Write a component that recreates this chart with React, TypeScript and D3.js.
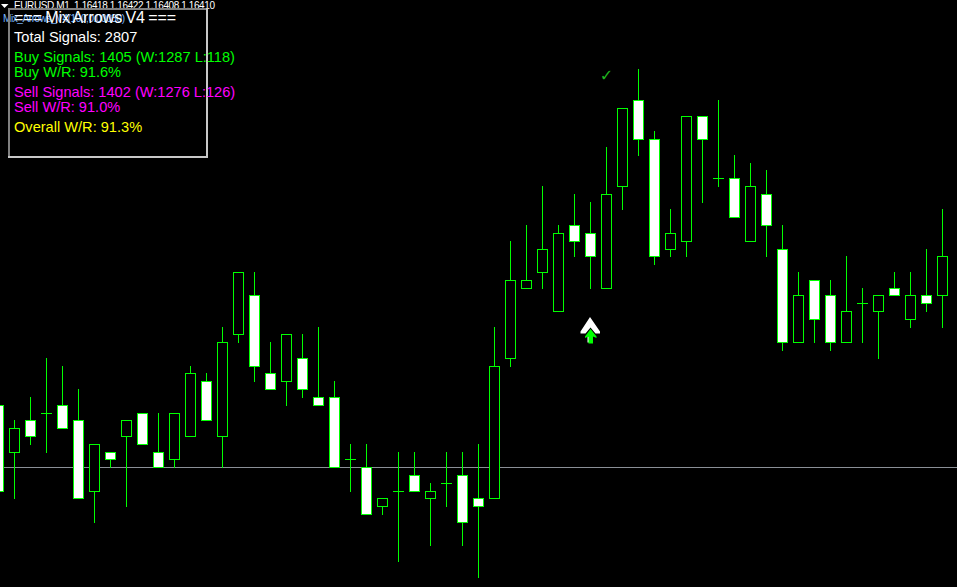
import React, { useEffect, useRef } from "react";
import * as d3 from "d3";

const W = 957;
const H = 587;

// prices are in points above 1.16000
const opens = [418, 412, 416, 417, 418, 416, 407, 412, 414, 417, 412, 411, 414, 421, 414, 427, 432, 422, 421, 424, 419, 419, 411, 410, 405, 407, 409, 406, 408, 409, 406, 406, 424, 433, 435, 430, 441, 440, 433, 446, 457, 452, 438, 439, 455, 447, 447, 439, 445, 438, 426, 434, 432, 426, 431, 430, 433, 429, 432, 432];
const closes = [407, 415, 414, 417, 415, 406, 413, 411, 416, 413, 410, 417, 422, 416, 426, 435, 423, 420, 427, 420, 418, 410, 411, 404, 406, 407, 407, 407, 408, 403, 405, 423, 434, 434, 438, 440, 439, 437, 445, 456, 452, 437, 440, 455, 452, 447, 442, 446, 441, 426, 432, 429, 426, 430, 431, 432, 432, 432, 431, 437];
const highs = [418, 416, 419, 424, 423, 420, 413, 412, 416, 417, 417, 417, 423, 422, 428, 435, 435, 426, 427, 427, 428, 421, 413, 413, 406, 412, 412, 408, 412, 412, 413, 428, 439, 441, 446, 441, 445, 444, 451, 456, 461, 453, 443, 455, 455, 457, 450, 449, 448, 441, 435, 434, 434, 437, 433, 432, 435, 435, 438, 443];
const lows = [407, 406, 413, 412, 415, 406, 403, 410, 405, 413, 410, 410, 414, 416, 410, 426, 421, 420, 418, 419, 418, 410, 407, 404, 404, 398, 407, 400, 405, 400, 396, 406, 423, 433, 433, 430, 437, 433, 433, 443, 450, 436, 437, 437, 444, 446, 442, 439, 437, 425, 426, 426, 425, 426, 426, 424, 432, 428, 430, 428];

const bidLevel = 410;
const priceRange = [396, 461];

// signals drawn on the chart
const buyArrowBar = 37;
const buyArrowPrice = 427;
const winMarkBar = 38;
const winMarkPrice = 460;

const headerText = "EURUSD,M1  1.16418 1.16422 1.16408 1.16410";
const indicatorName = "Mix_Arrows_V4(100,0.00030)";
const panelTitle = "=== Mix Arrows V4 ===";
const panelLines = [
  { text: "Total Signals: 2807", color: "#ffffff", y: 42 },
  { text: "Buy Signals: 1405 (W:1287 L:118)", color: "#00ff00", y: 62 },
  { text: "Buy W/R: 91.6%", color: "#00ff00", y: 77 },
  { text: "Sell Signals: 1402 (W:1276 L:126)", color: "#ff00ff", y: 97 },
  { text: "Sell W/R: 91.0%", color: "#ff00ff", y: 112 },
  { text: "Overall W/R: 91.3%", color: "#ffff00", y: 132 },
];

const App = () => {
  const ref = useRef<SVGSVGElement | null>(null);

  useEffect(() => {
    const svg = d3.select(ref.current);
    svg.selectAll("*").remove();

    const x = d3.scaleLinear().domain([0, opens.length - 1]).range([-1.5, 942.5]);
    const yRaw = d3
      .scaleLinear()
      .domain(priceRange)
      .range([467.2 + (bidLevel - priceRange[0]) * 7.81, 467.2 - (priceRange[1] - bidLevel) * 7.81]);
    // snap to pixel rows like the terminal does
    const y = (p: number) => Math.round(yRaw(p)) + 0.5;

    svg.append("rect").attr("width", W).attr("height", H).attr("fill", "#000");

    svg
      .append("line")
      .attr("x1", 0)
      .attr("x2", W)
      .attr("y1", y(bidLevel))
      .attr("y2", y(bidLevel))
      .attr("stroke", "#8a8f96")
      .attr("shape-rendering", "crispEdges");

    const bars = svg
      .selectAll("g.bar")
      .data(d3.range(opens.length))
      .enter()
      .append("g")
      .attr("class", "bar")
      .attr("shape-rendering", "crispEdges");

    bars
      .append("line")
      .attr("x1", (i) => x(i))
      .attr("x2", (i) => x(i))
      .attr("y1", (i) => y(highs[i]) - 0.5)
      .attr("y2", (i) => y(lows[i]) + 0.5)
      .attr("stroke", "#00ff00");

    // dojis get a flat dash, the rest a box (white when it closed lower)
    bars
      .filter((i) => opens[i] === closes[i])
      .append("line")
      .attr("x1", (i) => x(i) - 5.5)
      .attr("x2", (i) => x(i) + 5.5)
      .attr("y1", (i) => y(opens[i]))
      .attr("y2", (i) => y(opens[i]))
      .attr("stroke", "#00ff00");

    bars
      .filter((i) => opens[i] !== closes[i])
      .append("rect")
      .attr("x", (i) => x(i) - 5)
      .attr("width", 10)
      .attr("y", (i) => y(Math.max(opens[i], closes[i])))
      .attr("height", (i) => y(Math.min(opens[i], closes[i])) - y(Math.max(opens[i], closes[i])))
      .attr("fill", (i) => (closes[i] < opens[i] ? "#fff" : "#000"))
      .attr("stroke", "#00ff00");

    // arrow signal: white chevron with the green arrow on top
    const arrow = svg
      .append("g")
      .attr("transform", `translate(${x(buyArrowBar)},${y(buyArrowPrice)})`);
    arrow
      .append("path")
      .attr("d", "M-0.5,-17.5 L9.5,-3 L9.5,-1 L5,-1 L0,-7 L-5,-1 L-10,-1 L-10,-3 Z")
      .attr("fill", "#fff");
    arrow
      .append("path")
      .attr("d", "M-3,2 L-3,8 L-1,8 L-1,2 Z")
      .attr("fill", "#fff");
    arrow
      .append("path")
      .attr("d", "M0,-5.5 L6,2 L6,3.5 L2.5,2 L2.5,9 L-2,9 L-2,2 L-5.5,3.5 L-5.5,2 Z")
      .attr("fill", "#00ff00");

    svg
      .append("text")
      .attr("x", x(winMarkBar))
      .attr("y", y(winMarkPrice) + 3)
      .attr("text-anchor", "middle")
      .attr("font-family", "DejaVu Sans")
      .attr("font-size", 16)
      .attr("fill", "#1fb51f")
      .text("\u2713");

    // header of the chart window
    svg.append("path").attr("d", "M1,4 L8.5,4 L4.5,8 Z").attr("fill", "#fff");
    svg
      .append("text")
      .attr("x", 14)
      .attr("y", 9)
      .attr("font-family", "Liberation Sans")
      .attr("font-size", 10)
      .attr("textLength", 201)
      .attr("fill", "#fff")
      .style("white-space", "pre")
      .text(headerText);
    svg
      .append("text")
      .attr("x", 3)
      .attr("y", 22)
      .attr("font-family", "Liberation Sans")
      .attr("font-size", 10)
      .attr("textLength", 122)
      .attr("fill", "#7ab8ff")
      .text(indicatorName);

    // statistics panel, raised border: darker top and left
    const panel = svg.append("g").attr("shape-rendering", "crispEdges").attr("stroke-width", 2);
    panel.append("path").attr("d", "M9,157 L9,9 L207,9").attr("fill", "none").attr("stroke", "#808080");
    panel.append("path").attr("d", "M207,8 L207,157 L8,157").attr("fill", "none").attr("stroke", "#c8c8c8");

    svg
      .append("text")
      .attr("x", 14)
      .attr("y", 23)
      .attr("font-family", "Liberation Sans")
      .attr("font-size", 16)
      .attr("word-spacing", -1.25)
      .attr("fill", "#fff")
      .text(panelTitle);

    svg
      .selectAll("text.panel")
      .data(panelLines)
      .enter()
      .append("text")
      .attr("class", "panel")
      .attr("x", 14)
      .attr("y", (d) => d.y)
      .attr("font-family", "Liberation Sans")
      .attr("font-size", 14.6)
      .attr("fill", (d) => d.color)
      .text((d) => d.text);
  }, []);

  return (
    <svg
      ref={ref}
      width={W}
      height={H}
      style={{ position: "fixed", left: 0, top: 0, display: "block", background: "#000" }}
    />
  );
};

export default App;
